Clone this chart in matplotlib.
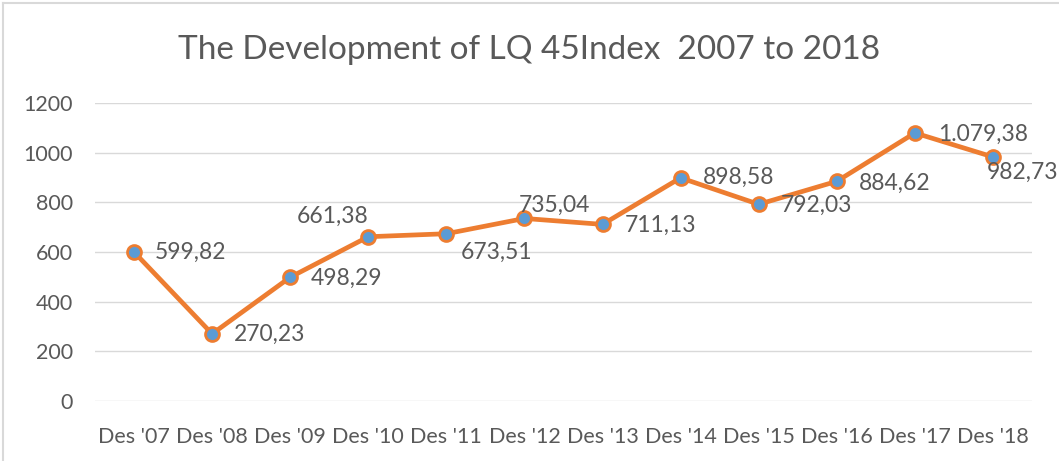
import matplotlib as mpl
mpl.use('Agg')
import matplotlib.pyplot as plt
from matplotlib.lines import Line2D

categories = ["Des '07", "Des '08", "Des '09", "Des '10", "Des '11", "Des '12",
              "Des '13", "Des '14", "Des '15", "Des '16", "Des '17", "Des '18"]
values = [599.82, 270.23, 498.29, 661.38, 673.51, 735.04,
          711.13, 898.58, 792.03, 884.62, 1079.38, 982.73]
labels = ["599,82", "270,23", "498,29", "661,38", "673,51", "735,04",
          "711,13", "898,58", "792,03", "884,62", "1.079,38", "982,73"]
yticks = [0, 200, 400, 600, 800, 1000, 1200]

# label offsets in pixels (dx, dy, ha, va)
offsets = [(21, 0, 'left', 'center'), (22, 0, 'left', 'center'),
           (21, -1, 'left', 'center'), (0, 10, 'right', 'bottom'),
           (14, -8, 'left', 'top'), (-6, 3, 'left', 'bottom'),
           (22, -1, 'left', 'center'), (22, 0, 'left', 'center'),
           (22, -1, 'left', 'center'), (22, -2, 'left', 'center'),
           (23, -1, 'left', 'center'), (-6, -5, 'left', 'top')]

plt.rcParams['font.family'] = ['Lato', 'DejaVu Sans']
grey = '#595959'

fig = plt.figure(figsize=(10.59, 4.61), dpi=100)
ax = fig.add_axes([0.0897, 0.1302, 0.8848, 0.6464])

x = list(range(len(categories)))
ax.plot(x, values, color='#ED7D31', lw=3.4, marker='o', markersize=10,
        markerfacecolor='#5B9BD5', markeredgecolor='#ED7D31', markeredgewidth=2,
        zorder=3)

for xi, v, lab, (dx, dy, ha, va) in zip(x, values, labels, offsets):
    ax.annotate(lab, (xi, v), xytext=(dx, dy), textcoords='offset pixels',
                ha=ha, va=va, fontsize=16.5, color=grey)

ax.set_xlim(-0.5, len(categories) - 0.5)
ax.set_ylim(0, 1200)
ax.set_yticks(yticks)
ax.set_xticks(x)
ax.set_xticklabels(categories)
ax.grid(axis='y', color='#D9D9D9', lw=1)
ax.set_axisbelow(True)
for s in ax.spines.values():
    s.set_visible(False)
ax.tick_params(length=0, labelsize=15.5, colors=grey)
ax.tick_params(axis='y', pad=16)
ax.tick_params(axis='x', pad=19)

fig.suptitle("The Development of LQ 45Index  2007 to 2018", y=0.925,
             fontsize=24, color=grey)

# chart frame
fig.add_artist(Line2D([3 / 1059, 1], [1 - 3 / 461] * 2, color='#D9D9D9', lw=1.5,
                      transform=fig.transFigure))
fig.add_artist(Line2D([3 / 1059] * 2, [0, 1 - 3 / 461], color='#D9D9D9', lw=1.5,
                      transform=fig.transFigure))

plt.savefig('out.png', dpi=100)
